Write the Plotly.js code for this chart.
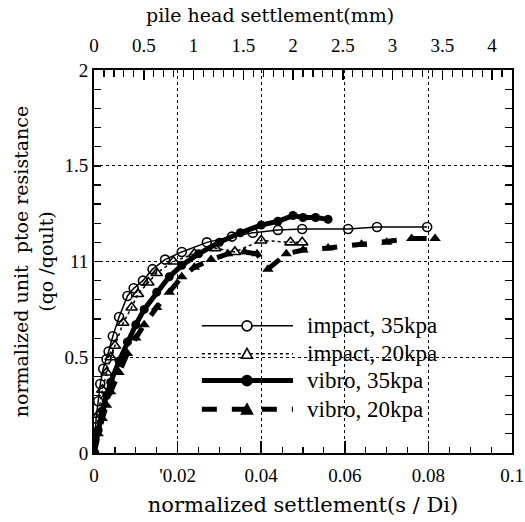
<!DOCTYPE html>
<html><head><meta charset="utf-8">
<script src="https://cdn.plot.ly/plotly-3.0.1.min.js"></script>
<style>html,body{margin:0;padding:0;background:#fff}#chart{width:525px;height:522px}</style>
</head><body><div id="chart"></div>
<script>
// normalized settlement s/Di and normalized unit toe resistance qo/qoult
const impact35X = [0,0.0005,0.001,0.0015,0.0022,0.003,0.0035,0.0045,0.006,0.008,0.0095,0.0117,0.014,0.017,0.021,0.027,0.033,0.038,0.044,0.0498,0.0608,0.0677,0.0797];
const impact35Y = [0,0.18,0.27,0.36,0.44,0.49,0.53,0.61,0.71,0.82,0.86,0.9,0.96,1.01,1.05,1.1,1.13,1.15,1.165,1.17,1.17,1.18,1.18];
const impact20X = [0,0.001,0.002,0.003,0.004,0.005,0.007,0.009,0.0105,0.013,0.015,0.019,0.024,0.029,0.0337,0.040,0.047,0.0498];
const impact20Y = [0,0.2,0.33,0.42,0.5,0.56,0.68,0.76,0.83,0.89,0.94,1.0,1.04,1.07,1.05,1.11,1.10,1.10];
const vibro35X = [0,0.001,0.002,0.003,0.004,0.006,0.008,0.01,0.012,0.015,0.018,0.021,0.025,0.03,0.035,0.04,0.044,0.0476,0.05,0.053,0.056];
const vibro35Y = [0,0.12,0.22,0.3,0.37,0.48,0.58,0.67,0.75,0.84,0.92,0.98,1.04,1.1,1.15,1.19,1.21,1.24,1.23,1.23,1.22];
const vibro20X = [0,0.001,0.002,0.003,0.004,0.006,0.008,0.01,0.012,0.015,0.018,0.021,0.024,0.028,0.032,0.036,0.039,0.0416,0.046,0.05,0.056,0.064,0.07,0.076,0.0816];
const vibro20Y = [0,0.1,0.18,0.25,0.32,0.42,0.52,0.6,0.67,0.76,0.84,0.92,0.97,1.01,1.04,1.05,1.04,0.96,1.04,1.06,1.07,1.09,1.1,1.12,1.12];
const seriesNames = ["impact, 35kpa","impact, 20kpa","vibro, 35kpa","vibro, 20kpa"];
const yTickVals = [0,0.5,1,1.5,2];
const yTickText = ["0","0.5","11","1.5","2"];
const xTickVals = [0,0.02,0.04,0.06,0.08,0.1];
const xTickText = ["0","'0.02","0.04","0.06","0.08","0.1"];
const topTickVals = [0,0.5,1,1.5,2,2.5,3,3.5,4];

const F = "'Liberation Serif', 'Times New Roman', serif";
const FT = "'DejaVu Serif', serif";
const traces = [
  {x: impact35X, y: impact35Y, mode:"lines+markers", name: seriesNames[0], showlegend:false,
   line:{color:"#000", width:1.5}, marker:{symbol:"circle-open", size:9, color:"#000", line:{width:1.6}}},
  {x: impact20X, y: impact20Y, mode:"lines+markers", name: seriesNames[1], showlegend:false,
   line:{color:"#000", width:1.5, dash:"dot"}, marker:{symbol:"triangle-up-open", size:10, color:"#000", line:{width:1.6}}},
  {x: vibro35X, y: vibro35Y, mode:"lines+markers", name: seriesNames[2], showlegend:false,
   line:{color:"#000", width:5}, marker:{symbol:"circle", size:9, color:"#000"}},
  {x: vibro20X, y: vibro20Y, mode:"lines+markers", name: seriesNames[3], showlegend:false,
   line:{color:"#000", width:5, dash:"dash"}, marker:{symbol:"triangle-up", size:10, color:"#000"}},
  {x:[0], y:[0], xaxis:"x2", mode:"markers", marker:{opacity:0}, showlegend:false, hoverinfo:"skip"}
];

// hand-drawn legend (paper coordinates)
const legRows = [0.332, 0.259, 0.189, 0.114];
const lx0 = 0.258, lx1 = 0.476, lm = 0.366, ltx = 0.505;
const shapes = [];
const annotations = [];
const lineStyles = [{width:1.5,dash:"solid"},{width:1.5,dash:"dot"},{width:5,dash:"solid"},{width:5,dash:"dash"}];
legRows.forEach((yy,i)=>{
  shapes.push({type:"line", xref:"paper", yref:"paper", x0:lx0, x1:lx1, y0:yy, y1:yy,
    line:{color:"#000", width:lineStyles[i].width, dash:lineStyles[i].dash}, layer:"above"});
  const fill = i>=2 ? "#000" : "#fff";
  if (i%2===0) {
    shapes.push({type:"circle", xref:"paper", yref:"paper", xsizemode:"pixel", ysizemode:"pixel",
      xanchor:lm, yanchor:yy, x0:-5, x1:5, y0:-5, y1:5, fillcolor:fill, line:{color:"#000", width:1.6}, layer:"above"});
  } else {
    shapes.push({type:"path", xref:"paper", yref:"paper", xsizemode:"pixel", ysizemode:"pixel",
      xanchor:lm, yanchor:yy, path:"M-5.5,-4.5 L5.5,-4.5 L0,5.5 Z", fillcolor:fill, line:{color:"#000", width:1.6}, layer:"above"});
  }
  annotations.push({xref:"paper", yref:"paper", x:ltx, y:yy, xanchor:"left", yanchor:"middle",
    text: seriesNames[i], showarrow:false, font:{family:F, size:23, color:"#000"}});
});
annotations.push({xref:"paper", yref:"paper", x:0.421, y:1.144, xanchor:"center", yanchor:"middle",
  text:"pile head settlement(mm)", showarrow:false, font:{family:FT, size:19, color:"#000"}});

const layout = {
  width:525, height:522,
  margin:{l:94, r:13, t:70, b:69},
  paper_bgcolor:"#fff", plot_bgcolor:"#fff",
  font:{family:F, size:18, color:"#000"},
  showlegend:false,
  xaxis:{range:[0,0.1], tickvals:xTickVals, ticktext:xTickText, ticks:"inside", ticklen:12, tickwidth:1.5, tickcolor:"#000",
    minor:{dtick:0.005, ticks:"inside", ticklen:6, tickwidth:1.2, tickcolor:"#000", showgrid:false},
    showline:true, linecolor:"#000", linewidth:2, mirror:false, ticklabelstandoff:4,
    showgrid:true, gridcolor:"#000", griddash:"dot", gridwidth:1.2, zeroline:false,
    title:{text:"normalized settlement(s / Di)", font:{family:FT, size:21}, standoff:13},
    tickfont:{family:F, size:19}},
  xaxis2:{overlaying:"x", side:"top", range:[0,4.2], tickvals:topTickVals, ticks:"inside", ticklen:10, tickwidth:1.5, tickcolor:"#000",
    minor:{dtick:0.1, ticks:"inside", ticklen:7, tickwidth:1.2, tickcolor:"#000", showgrid:false},
    showline:true, linecolor:"#000", linewidth:2, showgrid:false, zeroline:false, ticklabelstandoff:8,
    tickfont:{family:F, size:19}},
  yaxis:{range:[0,2], tickvals:yTickVals, ticktext:yTickText, ticks:"inside", ticklen:7, tickwidth:1.5, tickcolor:"#000",
    minor:{dtick:0.1, ticks:"inside", ticklen:7, tickwidth:1.2, tickcolor:"#000", showgrid:false},
    showline:true, linecolor:"#000", linewidth:2, mirror:"ticks",
    showgrid:true, gridcolor:"#000", griddash:"dot", gridwidth:1.2, zeroline:false,
    title:{text:"normalized unit  ptoe resistance<br>(qo /qoult)", font:{family:FT, size:19}, standoff:6},
    tickfont:{family:F, size:19}},
  shapes: shapes,
  annotations: annotations
};
Plotly.newPlot("chart", traces, layout, {displayModeBar:false, staticPlot:true});
</script></body></html>
